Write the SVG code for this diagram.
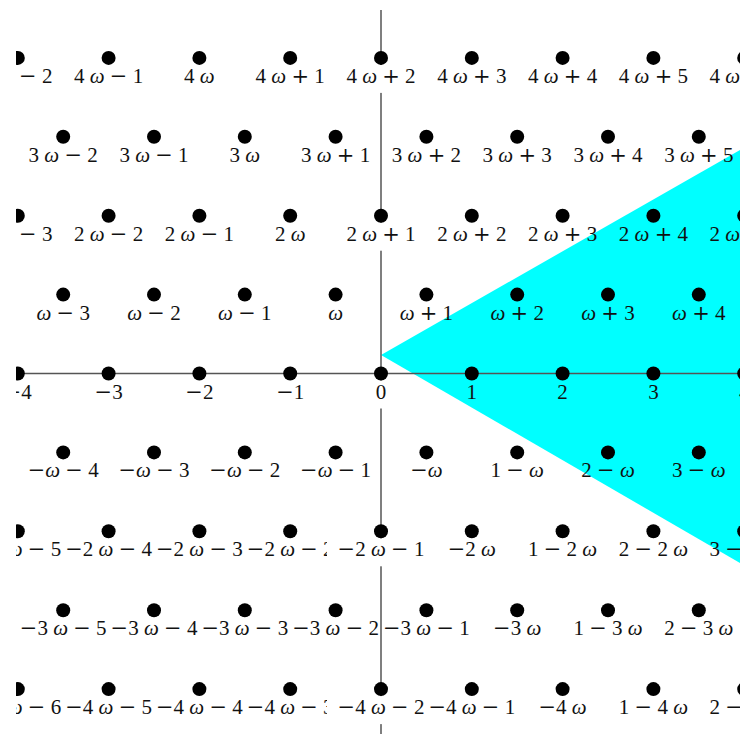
<svg xmlns="http://www.w3.org/2000/svg" width="740" height="734" viewBox="0 0 740 734">
<style>
.t{font-family:"Liberation Serif",serif;font-size:21px;text-anchor:middle;fill:#111}
.w{font-style:italic}
.o{font-family:"DejaVu Serif",serif}
.d{fill:#000}
.bx{fill:#fff}
.ax{stroke:#555;stroke-width:1.5;fill:none}
</style>
<defs><clipPath id="c"><rect x="16" y="10" width="728" height="728"/></clipPath></defs>
<rect width="740" height="734" fill="#fff"/>
<g clip-path="url(#c)">
<polygon id="region" points="381,355 744,147.7 744,565.3" fill="#00ffff"/>
<g id="axes">
<line class="ax" x1="16" y1="373.5" x2="744" y2="373.5"/>
<line class="ax" x1="381" y1="10" x2="381" y2="738"/>
</g>
<g id="nodes">
<g id="r4m2"><text class="t" x="17.8" y="82.9">4 <tspan class="w">ω</tspan> <tspan class="o">−</tspan> 2</text><circle class="d" cx="17.8" cy="57.9" r="7"/></g>
<g id="r4m1"><text class="t" x="108.6" y="82.9">4 <tspan class="w">ω</tspan> <tspan class="o">−</tspan> 1</text><circle class="d" cx="108.6" cy="57.9" r="7"/></g>
<g id="r4z"><text class="t" x="199.4" y="82.9">4 <tspan class="w">ω</tspan></text><circle class="d" cx="199.4" cy="57.9" r="7"/></g>
<g id="r4p1"><text class="t" x="290.2" y="82.9">4 <tspan class="w">ω</tspan> <tspan class="o">+</tspan> 1</text><circle class="d" cx="290.2" cy="57.9" r="7"/></g>
<g id="r4p2"><rect class="bx" x="335.5" y="64.9" width="91" height="28"/><text class="t" x="381" y="82.9">4 <tspan class="w">ω</tspan> <tspan class="o">+</tspan> 2</text><circle class="d" cx="381" cy="57.9" r="7"/></g>
<g id="r4p3"><text class="t" x="471.8" y="82.9">4 <tspan class="w">ω</tspan> <tspan class="o">+</tspan> 3</text><circle class="d" cx="471.8" cy="57.9" r="7"/></g>
<g id="r4p4"><text class="t" x="562.6" y="82.9">4 <tspan class="w">ω</tspan> <tspan class="o">+</tspan> 4</text><circle class="d" cx="562.6" cy="57.9" r="7"/></g>
<g id="r4p5"><text class="t" x="653.4" y="82.9">4 <tspan class="w">ω</tspan> <tspan class="o">+</tspan> 5</text><circle class="d" cx="653.4" cy="57.9" r="7"/></g>
<g id="r4p6"><text class="t" x="744.2" y="82.9">4 <tspan class="w">ω</tspan> <tspan class="o">+</tspan> 6</text><circle class="d" cx="744.2" cy="57.9" r="7"/></g>

<g id="r3m2"><text class="t" x="63.2" y="161.8">3 <tspan class="w">ω</tspan> <tspan class="o">−</tspan> 2</text><circle class="d" cx="63.2" cy="136.8" r="7"/></g>
<g id="r3m1"><text class="t" x="154" y="161.8">3 <tspan class="w">ω</tspan> <tspan class="o">−</tspan> 1</text><circle class="d" cx="154" cy="136.8" r="7"/></g>
<g id="r3z"><text class="t" x="244.8" y="161.8">3 <tspan class="w">ω</tspan></text><circle class="d" cx="244.8" cy="136.8" r="7"/></g>
<g id="r3p1"><text class="t" x="335.6" y="161.8">3 <tspan class="w">ω</tspan> <tspan class="o">+</tspan> 1</text><circle class="d" cx="335.6" cy="136.8" r="7"/></g>
<g id="r3p2"><text class="t" x="426.4" y="161.8">3 <tspan class="w">ω</tspan> <tspan class="o">+</tspan> 2</text><circle class="d" cx="426.4" cy="136.8" r="7"/></g>
<g id="r3p3"><text class="t" x="517.2" y="161.8">3 <tspan class="w">ω</tspan> <tspan class="o">+</tspan> 3</text><circle class="d" cx="517.2" cy="136.8" r="7"/></g>
<g id="r3p4"><text class="t" x="608" y="161.8">3 <tspan class="w">ω</tspan> <tspan class="o">+</tspan> 4</text><circle class="d" cx="608" cy="136.8" r="7"/></g>
<g id="r3p5"><text class="t" x="698.8" y="161.8">3 <tspan class="w">ω</tspan> <tspan class="o">+</tspan> 5</text><circle class="d" cx="698.8" cy="136.8" r="7"/></g>

<g id="r2m3"><text class="t" x="17.8" y="240.7">2 <tspan class="w">ω</tspan> <tspan class="o">−</tspan> 3</text><circle class="d" cx="17.8" cy="215.7" r="7"/></g>
<g id="r2m2"><text class="t" x="108.6" y="240.7">2 <tspan class="w">ω</tspan> <tspan class="o">−</tspan> 2</text><circle class="d" cx="108.6" cy="215.7" r="7"/></g>
<g id="r2m1"><text class="t" x="199.4" y="240.7">2 <tspan class="w">ω</tspan> <tspan class="o">−</tspan> 1</text><circle class="d" cx="199.4" cy="215.7" r="7"/></g>
<g id="r2z"><text class="t" x="290.2" y="240.7">2 <tspan class="w">ω</tspan></text><circle class="d" cx="290.2" cy="215.7" r="7"/></g>
<g id="r2p1"><rect class="bx" x="335.5" y="222.7" width="91" height="28"/><text class="t" x="381" y="240.7">2 <tspan class="w">ω</tspan> <tspan class="o">+</tspan> 1</text><circle class="d" cx="381" cy="215.7" r="7"/></g>
<g id="r2p2"><text class="t" x="471.8" y="240.7">2 <tspan class="w">ω</tspan> <tspan class="o">+</tspan> 2</text><circle class="d" cx="471.8" cy="215.7" r="7"/></g>
<g id="r2p3"><text class="t" x="562.6" y="240.7">2 <tspan class="w">ω</tspan> <tspan class="o">+</tspan> 3</text><circle class="d" cx="562.6" cy="215.7" r="7"/></g>
<g id="r2p4"><text class="t" x="653.4" y="240.7">2 <tspan class="w">ω</tspan> <tspan class="o">+</tspan> 4</text><circle class="d" cx="653.4" cy="215.7" r="7"/></g>
<g id="r2p5"><text class="t" x="744.2" y="240.7">2 <tspan class="w">ω</tspan> <tspan class="o">+</tspan> 5</text><circle class="d" cx="744.2" cy="215.7" r="7"/></g>

<g id="r1m3"><text class="t" x="63.2" y="319.6"><tspan class="w">ω</tspan> <tspan class="o">−</tspan> 3</text><circle class="d" cx="63.2" cy="294.6" r="7"/></g>
<g id="r1m2"><text class="t" x="154" y="319.6"><tspan class="w">ω</tspan> <tspan class="o">−</tspan> 2</text><circle class="d" cx="154" cy="294.6" r="7"/></g>
<g id="r1m1"><text class="t" x="244.8" y="319.6"><tspan class="w">ω</tspan> <tspan class="o">−</tspan> 1</text><circle class="d" cx="244.8" cy="294.6" r="7"/></g>
<g id="r1z"><text class="t" x="335.6" y="319.6"><tspan class="w">ω</tspan></text><circle class="d" cx="335.6" cy="294.6" r="7"/></g>
<g id="r1p1"><text class="t" x="426.4" y="319.6"><tspan class="w">ω</tspan> <tspan class="o">+</tspan> 1</text><circle class="d" cx="426.4" cy="294.6" r="7"/></g>
<g id="r1p2"><text class="t" x="517.2" y="319.6"><tspan class="w">ω</tspan> <tspan class="o">+</tspan> 2</text><circle class="d" cx="517.2" cy="294.6" r="7"/></g>
<g id="r1p3"><text class="t" x="608" y="319.6"><tspan class="w">ω</tspan> <tspan class="o">+</tspan> 3</text><circle class="d" cx="608" cy="294.6" r="7"/></g>
<g id="r1p4"><text class="t" x="698.8" y="319.6"><tspan class="w">ω</tspan> <tspan class="o">+</tspan> 4</text><circle class="d" cx="698.8" cy="294.6" r="7"/></g>

<g id="r0m4"><text class="t" x="17.8" y="398.5"><tspan class="o">−</tspan>4</text><circle class="d" cx="17.8" cy="373.5" r="7"/></g>
<g id="r0m3"><text class="t" x="108.6" y="398.5"><tspan class="o">−</tspan>3</text><circle class="d" cx="108.6" cy="373.5" r="7"/></g>
<g id="r0m2"><text class="t" x="199.4" y="398.5"><tspan class="o">−</tspan>2</text><circle class="d" cx="199.4" cy="373.5" r="7"/></g>
<g id="r0m1"><text class="t" x="290.2" y="398.5"><tspan class="o">−</tspan>1</text><circle class="d" cx="290.2" cy="373.5" r="7"/></g>
<g id="r0z"><rect class="bx" x="365" y="380.5" width="32" height="28"/><text class="t" x="381" y="398.5">0</text><circle class="d" cx="381" cy="373.5" r="7"/></g>
<g id="r0p1"><text class="t" x="471.8" y="398.5">1</text><circle class="d" cx="471.8" cy="373.5" r="7"/></g>
<g id="r0p2"><text class="t" x="562.6" y="398.5">2</text><circle class="d" cx="562.6" cy="373.5" r="7"/></g>
<g id="r0p3"><text class="t" x="653.4" y="398.5">3</text><circle class="d" cx="653.4" cy="373.5" r="7"/></g>
<g id="r0p4"><text class="t" x="744.2" y="398.5">4</text><circle class="d" cx="744.2" cy="373.5" r="7"/></g>

<g id="rn1m4"><text class="t" x="63.2" y="477.4"><tspan class="o">−</tspan><tspan class="w">ω</tspan> <tspan class="o">−</tspan> 4</text><circle class="d" cx="63.2" cy="452.4" r="7"/></g>
<g id="rn1m3"><text class="t" x="154" y="477.4"><tspan class="o">−</tspan><tspan class="w">ω</tspan> <tspan class="o">−</tspan> 3</text><circle class="d" cx="154" cy="452.4" r="7"/></g>
<g id="rn1m2"><text class="t" x="244.8" y="477.4"><tspan class="o">−</tspan><tspan class="w">ω</tspan> <tspan class="o">−</tspan> 2</text><circle class="d" cx="244.8" cy="452.4" r="7"/></g>
<g id="rn1m1"><text class="t" x="335.6" y="477.4"><tspan class="o">−</tspan><tspan class="w">ω</tspan> <tspan class="o">−</tspan> 1</text><circle class="d" cx="335.6" cy="452.4" r="7"/></g>
<g id="rn1z"><text class="t" x="426.4" y="477.4"><tspan class="o">−</tspan><tspan class="w">ω</tspan></text><circle class="d" cx="426.4" cy="452.4" r="7"/></g>
<g id="rn1p1"><text class="t" x="517.2" y="477.4">1 <tspan class="o">−</tspan> <tspan class="w">ω</tspan></text><circle class="d" cx="517.2" cy="452.4" r="7"/></g>
<g id="rn1p2"><text class="t" x="608" y="477.4">2 <tspan class="o">−</tspan> <tspan class="w">ω</tspan></text><circle class="d" cx="608" cy="452.4" r="7"/></g>
<g id="rn1p3"><text class="t" x="698.8" y="477.4">3 <tspan class="o">−</tspan> <tspan class="w">ω</tspan></text><circle class="d" cx="698.8" cy="452.4" r="7"/></g>

<g id="rn2m5"><text class="t" x="17.8" y="556.3"><tspan class="o">−</tspan>2 <tspan class="w">ω</tspan> <tspan class="o">−</tspan> 5</text><circle class="d" cx="17.8" cy="531.3" r="7"/></g>
<g id="rn2m4"><text class="t" x="108.6" y="556.3"><tspan class="o">−</tspan>2 <tspan class="w">ω</tspan> <tspan class="o">−</tspan> 4</text><circle class="d" cx="108.6" cy="531.3" r="7"/></g>
<g id="rn2m3"><text class="t" x="199.4" y="556.3"><tspan class="o">−</tspan>2 <tspan class="w">ω</tspan> <tspan class="o">−</tspan> 3</text><circle class="d" cx="199.4" cy="531.3" r="7"/></g>
<g id="rn2m2"><text class="t" x="290.2" y="556.3"><tspan class="o">−</tspan>2 <tspan class="w">ω</tspan> <tspan class="o">−</tspan> 2</text><circle class="d" cx="290.2" cy="531.3" r="7"/></g>
<g id="rn2m1"><rect class="bx" x="327" y="538.3" width="108" height="28"/><text class="t" x="381" y="556.3"><tspan class="o">−</tspan>2 <tspan class="w">ω</tspan> <tspan class="o">−</tspan> 1</text><circle class="d" cx="381" cy="531.3" r="7"/></g>
<g id="rn2z"><text class="t" x="471.8" y="556.3"><tspan class="o">−</tspan>2 <tspan class="w">ω</tspan></text><circle class="d" cx="471.8" cy="531.3" r="7"/></g>
<g id="rn2p1"><text class="t" x="562.6" y="556.3">1 <tspan class="o">−</tspan> 2 <tspan class="w">ω</tspan></text><circle class="d" cx="562.6" cy="531.3" r="7"/></g>
<g id="rn2p2"><text class="t" x="653.4" y="556.3">2 <tspan class="o">−</tspan> 2 <tspan class="w">ω</tspan></text><circle class="d" cx="653.4" cy="531.3" r="7"/></g>
<g id="rn2p3"><text class="t" x="744.2" y="556.3">3 <tspan class="o">−</tspan> 2 <tspan class="w">ω</tspan></text><circle class="d" cx="744.2" cy="531.3" r="7"/></g>

<g id="rn3m5"><text class="t" x="63.2" y="635.2"><tspan class="o">−</tspan>3 <tspan class="w">ω</tspan> <tspan class="o">−</tspan> 5</text><circle class="d" cx="63.2" cy="610.2" r="7"/></g>
<g id="rn3m4"><text class="t" x="154" y="635.2"><tspan class="o">−</tspan>3 <tspan class="w">ω</tspan> <tspan class="o">−</tspan> 4</text><circle class="d" cx="154" cy="610.2" r="7"/></g>
<g id="rn3m3"><text class="t" x="244.8" y="635.2"><tspan class="o">−</tspan>3 <tspan class="w">ω</tspan> <tspan class="o">−</tspan> 3</text><circle class="d" cx="244.8" cy="610.2" r="7"/></g>
<g id="rn3m2"><text class="t" x="335.6" y="635.2"><tspan class="o">−</tspan>3 <tspan class="w">ω</tspan> <tspan class="o">−</tspan> 2</text><circle class="d" cx="335.6" cy="610.2" r="7"/></g>
<g id="rn3m1"><text class="t" x="426.4" y="635.2"><tspan class="o">−</tspan>3 <tspan class="w">ω</tspan> <tspan class="o">−</tspan> 1</text><circle class="d" cx="426.4" cy="610.2" r="7"/></g>
<g id="rn3z"><text class="t" x="517.2" y="635.2"><tspan class="o">−</tspan>3 <tspan class="w">ω</tspan></text><circle class="d" cx="517.2" cy="610.2" r="7"/></g>
<g id="rn3p1"><text class="t" x="608" y="635.2">1 <tspan class="o">−</tspan> 3 <tspan class="w">ω</tspan></text><circle class="d" cx="608" cy="610.2" r="7"/></g>
<g id="rn3p2"><text class="t" x="698.8" y="635.2">2 <tspan class="o">−</tspan> 3 <tspan class="w">ω</tspan></text><circle class="d" cx="698.8" cy="610.2" r="7"/></g>

<g id="rn4m6"><text class="t" x="17.8" y="714.1"><tspan class="o">−</tspan>4 <tspan class="w">ω</tspan> <tspan class="o">−</tspan> 6</text><circle class="d" cx="17.8" cy="689.1" r="7"/></g>
<g id="rn4m5"><text class="t" x="108.6" y="714.1"><tspan class="o">−</tspan>4 <tspan class="w">ω</tspan> <tspan class="o">−</tspan> 5</text><circle class="d" cx="108.6" cy="689.1" r="7"/></g>
<g id="rn4m4"><text class="t" x="199.4" y="714.1"><tspan class="o">−</tspan>4 <tspan class="w">ω</tspan> <tspan class="o">−</tspan> 4</text><circle class="d" cx="199.4" cy="689.1" r="7"/></g>
<g id="rn4m3"><text class="t" x="290.2" y="714.1"><tspan class="o">−</tspan>4 <tspan class="w">ω</tspan> <tspan class="o">−</tspan> 3</text><circle class="d" cx="290.2" cy="689.1" r="7"/></g>
<g id="rn4m2"><rect class="bx" x="327" y="696.1" width="108" height="28"/><text class="t" x="381" y="714.1"><tspan class="o">−</tspan>4 <tspan class="w">ω</tspan> <tspan class="o">−</tspan> 2</text><circle class="d" cx="381" cy="689.1" r="7"/></g>
<g id="rn4m1"><text class="t" x="471.8" y="714.1"><tspan class="o">−</tspan>4 <tspan class="w">ω</tspan> <tspan class="o">−</tspan> 1</text><circle class="d" cx="471.8" cy="689.1" r="7"/></g>
<g id="rn4z"><text class="t" x="562.6" y="714.1"><tspan class="o">−</tspan>4 <tspan class="w">ω</tspan></text><circle class="d" cx="562.6" cy="689.1" r="7"/></g>
<g id="rn4p1"><text class="t" x="653.4" y="714.1">1 <tspan class="o">−</tspan> 4 <tspan class="w">ω</tspan></text><circle class="d" cx="653.4" cy="689.1" r="7"/></g>
<g id="rn4p2"><text class="t" x="744.2" y="714.1">2 <tspan class="o">−</tspan> 4 <tspan class="w">ω</tspan></text><circle class="d" cx="744.2" cy="689.1" r="7"/></g>
</g>
</g>
</svg>
